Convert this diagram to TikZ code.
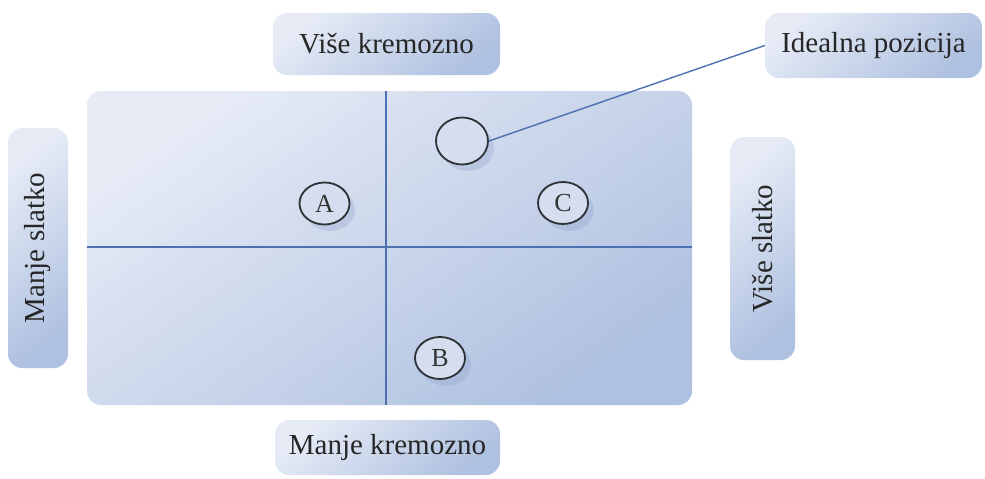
\documentclass[tikz,border=0pt]{standalone}
\usepackage{fontspec}
\setmainfont{Liberation Serif}
\usepackage{xcolor}
\usetikzlibrary{calc,shapes.geometric}

\definecolor{paneltop}{HTML}{E6EBF6}
\definecolor{panelbot}{HTML}{AFC1E0}
\definecolor{axisblue}{HTML}{4D70B0}
\definecolor{ringgray}{HTML}{2E3136}
\definecolor{shadowblue}{HTML}{8A9FCB}

\tikzset{
    panel/.style={rounded corners=14pt, top color=paneltop, bottom color=panelbot,
        shading angle=35, inner sep=0pt},
    tag/.style={rounded corners=14pt, top color=paneltop, bottom color=panelbot,
        shading angle=40, inner sep=0pt, text=black!85,
        font=\fontsize{29}{32}\selectfont},
    brand/.style={ellipse, draw=ringgray, line width=1.8pt, fill=paneltop!70!panelbot,
        minimum width=50pt, minimum height=42pt, inner sep=0pt,
        font=\fontsize{26}{28}\selectfont, text=black!80},
    axisline/.style={axisblue, line width=1.4pt}
}

\begin{document}
\begin{tikzpicture}[x=1pt,y=-1pt]
        \useasboundingbox (0,0) rectangle (985,479);

        % the map
        \node[panel, minimum width=605pt, minimum height=314pt] (plane) at (389.5,248) {};
        \coordinate (mid) at (386,247);
        \draw[axisline] (mid |- plane.north) -- (mid |- plane.south);
        \draw[axisline] (plane.west |- mid) -- (plane.east |- mid);

        % labels round the map
        \node[tag, minimum width=227pt, minimum height=62pt] (creamy) at (386.5,44) {Više kremozno};
        \node[tag, minimum width=225pt, minimum height=55pt] (lesscreamy) at (387.5,447.5) {Manje kremozno};
        \node[tag, rotate=90, minimum width=240pt, minimum height=60pt] (lesssweet) at (38,248) {Manje slatko};
        \node[tag, rotate=90, minimum width=223pt, minimum height=65pt] (sweet) at (762.5,248.5) {Više slatko};
        \node[tag, minimum width=217pt, minimum height=65pt] (ideal) at (873.5,45.5) {Idealna pozicija};

        % shadows
        \fill[shadowblue, opacity=0.3] (330,210) ellipse (25 and 21);
        \fill[shadowblue, opacity=0.3] (569,210) ellipse (25 and 21);
        \fill[shadowblue, opacity=0.3] (446,365) ellipse (25 and 21);
        \fill[shadowblue, opacity=0.3] (468,148) ellipse (26 and 23);

        % products
        \node[brand] (brandA) at (324.5,203.5) {A};
        \node[brand] (brandC) at (563,203) {C};
        \node[brand] (brandB) at (440,358) {B};
        \node[brand, minimum width=52pt, minimum height=47pt] (best) at (462,141) {};

        \draw[axisline] (best.east) -- (ideal.west);
    \end{tikzpicture}
\end{document}
